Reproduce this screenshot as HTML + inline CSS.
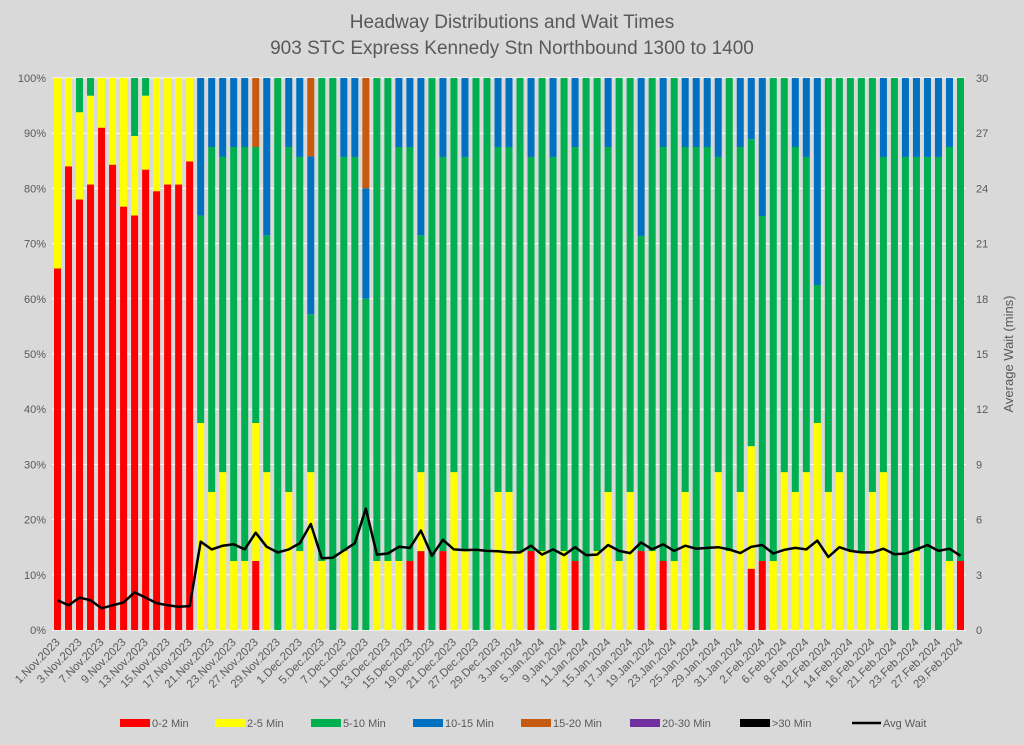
<!DOCTYPE html>
<html><head><meta charset="utf-8"><style>
body{margin:0;background:#d9d9d9;font-family:"Liberation Sans",sans-serif}
svg text{font-family:"Liberation Sans",sans-serif;fill:#595959}
</style></head><body>
<svg id="c" width="1024" height="740" xmlns="http://www.w3.org/2000/svg">
<rect width="1024" height="740" fill="#d9d9d9"/>
<text x="512" y="28" font-size="19" text-anchor="middle">Headway Distributions and Wait Times</text>
<text x="512" y="54" font-size="19" text-anchor="middle">903 STC Express  Kennedy Stn Northbound 1300 to 1400</text>
<g id="grid"></g><g id="bars"></g><g id="line"></g><g id="axes"></g><g id="legend"></g>
<text transform="translate(1013,354) rotate(-90)" font-size="13" text-anchor="middle">Average Wait (mins)</text>
</svg>
<script>
const dates=["1.Nov.2023","2.Nov.2023","3.Nov.2023","6.Nov.2023","7.Nov.2023","8.Nov.2023","9.Nov.2023","10.Nov.2023","13.Nov.2023","14.Nov.2023","15.Nov.2023","16.Nov.2023","17.Nov.2023","20.Nov.2023","21.Nov.2023","22.Nov.2023","23.Nov.2023","24.Nov.2023","27.Nov.2023","28.Nov.2023","29.Nov.2023","30.Nov.2023",
"1.Dec.2023","4.Dec.2023","5.Dec.2023","6.Dec.2023","7.Dec.2023","8.Dec.2023","11.Dec.2023","12.Dec.2023","13.Dec.2023","14.Dec.2023","15.Dec.2023","18.Dec.2023","19.Dec.2023","20.Dec.2023","21.Dec.2023","22.Dec.2023","27.Dec.2023","28.Dec.2023","29.Dec.2023",
"2.Jan.2024","3.Jan.2024","4.Jan.2024","5.Jan.2024","8.Jan.2024","9.Jan.2024","10.Jan.2024","11.Jan.2024","12.Jan.2024","15.Jan.2024","16.Jan.2024","17.Jan.2024","18.Jan.2024","19.Jan.2024","22.Jan.2024","23.Jan.2024","24.Jan.2024","25.Jan.2024","26.Jan.2024","29.Jan.2024","30.Jan.2024","31.Jan.2024",
"1.Feb.2024","2.Feb.2024","5.Feb.2024","6.Feb.2024","7.Feb.2024","8.Feb.2024","9.Feb.2024","12.Feb.2024","13.Feb.2024","14.Feb.2024","15.Feb.2024","16.Feb.2024","20.Feb.2024","21.Feb.2024","22.Feb.2024","23.Feb.2024","26.Feb.2024","27.Feb.2024","28.Feb.2024","29.Feb.2024"];
const s02=[65.5,84,78,80.7,91,84.3,76.7,75.1,83.4,79.5,80.7,80.7,84.9,0,0,0,0,0,12.5,0,0,0,0,0,0,0,0,0,0,0,0,0,12.5,14.3,0,14.3,0,0,0,0,0,0,0,14.3,0,0,0,12.5,0,0,0,0,0,14.3,0,12.5,0,0,0,0,0,0,0,11.1,12.5,0,0,0,0,0,0,0,0,0,0,0,0,0,0,0,0,0,12.5];
const s25=[34.5,16,15.8,16.1,9,15.7,23.3,14.4,13.4,20.5,19.3,19.3,15.1,37.5,25,28.6,12.5,12.5,25,28.6,0,25,14.3,28.6,12.5,0,14.3,0,0,12.5,12.5,12.5,0,14.3,0,0,28.6,14.3,0,0,25,25,14.3,0,14.3,0,14.3,0,0,14.3,25,12.5,25,0,14.3,0,12.5,25,0,0,28.6,14.3,25,22.2,0,12.5,28.6,25,28.6,37.5,25,28.6,14.3,14.3,25,28.6,0,0,14.3,0,0,12.5,0];
const s510=[0,0,6.2,3.2,0,0,0,10.5,3.2,0,0,0,0,37.6,62.5,57.1,75,75,50,42.9,100,62.5,71.4,28.6,87.5,100,71.4,85.7,60,87.5,87.5,75,75,42.9,100,71.4,71.4,71.4,100,100,62.5,62.5,85.7,71.4,85.7,85.7,85.7,75,100,85.7,62.5,87.5,75,57.1,85.7,75,87.5,62.5,87.5,87.5,57.1,85.7,62.5,55.6,62.5,87.5,71.4,62.5,57.1,25,75,71.4,85.7,85.7,75,57.1,100,85.7,71.4,85.7,85.7,75,87.5];
const s1015=[0,0,0,0,0,0,0,0,0,0,0,0,0,24.9,12.5,14.3,12.5,12.5,0,28.5,0,12.5,14.3,28.6,0,0,14.3,14.3,20,0,0,12.5,12.5,28.5,0,14.3,0,14.3,0,0,12.5,12.5,0,14.3,0,14.3,0,12.5,0,0,12.5,0,0,28.6,0,12.5,0,12.5,12.5,12.5,14.3,0,12.5,11.1,25,0,0,12.5,14.3,37.5,0,0,0,0,0,14.3,0,14.3,14.3,14.3,14.3,12.5,0];
const s1520=[0,0,0,0,0,0,0,0,0,0,0,0,0,0,0,0,0,0,12.5,0,0,0,0,14.2,0,0,0,0,20,0,0,0,0,0,0,0,0,0,0,0,0,0,0,0,0,0,0,0,0,0,0,0,0,0,0,0,0,0,0,0,0,0,0,0,0,0,0,0,0,0,0,0,0,0,0,0,0,0,0,0,0,0,0];
const s2030=new Array(83).fill(0);
const s30=new Array(83).fill(0);
const avgWait=[1.62,1.34,1.76,1.62,1.18,1.34,1.5,2.05,1.76,1.46,1.34,1.26,1.3,4.8,4.38,4.58,4.66,4.38,5.29,4.52,4.22,4.38,4.72,5.76,3.9,3.93,4.32,4.72,6.6,4.1,4.16,4.52,4.46,5.4,4.03,4.9,4.38,4.34,4.36,4.3,4.28,4.22,4.22,4.58,4.1,4.38,4.07,4.5,4.07,4.1,4.62,4.3,4.18,4.76,4.38,4.66,4.3,4.58,4.42,4.46,4.5,4.38,4.18,4.52,4.62,4.16,4.36,4.46,4.38,4.86,3.97,4.5,4.3,4.22,4.22,4.42,4.12,4.16,4.38,4.62,4.3,4.42,4.03];
const pctTicks=["0%","10%","20%","30%","40%","50%","60%","70%","80%","90%","100%"];
const waitTicks=["0","3","6","9","12","15","18","21","24","27","30"];
const seriesNames=["0-2 Min","2-5 Min","5-10 Min","10-15 Min","15-20 Min","20-30 Min",">30 Min"];
const colors=["#ff0000","#ffff00","#00b050","#0070c0","#c55a11","#7030a0","#000000"];

const L=52,R=966,T=78,B=630,NS="http://www.w3.org/2000/svg";
const band=(R-L)/dates.length;
const xc=i=>L+band*(i+0.5);
const yP=v=>B-(B-T)*v/100;
const yW=v=>B-(B-T)*v/30;
function mk(tag,parent,at){const e=document.createElementNS(NS,tag);for(const k in at)e.setAttribute(k,at[k]);parent.appendChild(e);return e;}
const g=document.getElementById('grid'),gb=document.getElementById('bars'),gl=document.getElementById('line'),ga=document.getElementById('axes'),lg=document.getElementById('legend');
pctTicks.forEach((t,i)=>{const v=i*10;
 const ln=mk('line',g,{x1:L,x2:R,y1:yP(v),y2:yP(v),stroke:'#ffffff','stroke-width':1});
 
 
 const tx=mk('text',ga,{x:L-6,y:yP(v)+4,'font-size':11,'text-anchor':'end'});tx.textContent=t;
 
 
});
waitTicks.forEach(t=>{const v=+t;
 const tx=mk('text',ga,{x:R+10,y:yW(v)+4,'font-size':11,'text-anchor':'start'});tx.textContent=t;
 
 
});
const series=[s02,s25,s510,s1015,s1520,s2030,s30];
const bw=7;
dates.forEach((d,i)=>{let acc=0;
 series.forEach((s,k)=>{const v=s[i];if(v<=0)return;
  const r=mk('rect',gb,{x:xc(i)-bw/2,y:yP(acc+v),width:bw,height:yP(acc)-yP(acc+v),fill:colors[k]});
  
  
  acc+=v;});
 if(i%2===0){const x=xc(i)+3,y=B+13;
  const tx=mk('text',ga,{x:x,y:y,'font-size':11.5,'text-anchor':'end',transform:`rotate(-45 ${x} ${y})`});tx.textContent=d;
  
  }
});
const pts=avgWait.map((v,i)=>xc(i).toFixed(1)+','+yW(v).toFixed(1)).join(' ');
const pl=mk('polyline',gl,{points:pts,fill:'none',stroke:'#000','stroke-width':2.5,'stroke-linejoin':'round'});


const lx=[120,215,311,413,521,630,740];
seriesNames.forEach((n,k)=>{
 const r=mk('rect',lg,{x:lx[k],y:719,width:30,height:8,fill:colors[k]});
 
 
 const t=mk('text',lg,{x:lx[k]+32,y:727,'font-size':11});t.textContent=n;
 
 
});
const ll=mk('line',lg,{x1:852,x2:881,y1:723,y2:723,stroke:'#000','stroke-width':2.5});


const lt=mk('text',lg,{x:883,y:727,'font-size':11});lt.textContent="Avg Wait";


</script>
</body></html>
